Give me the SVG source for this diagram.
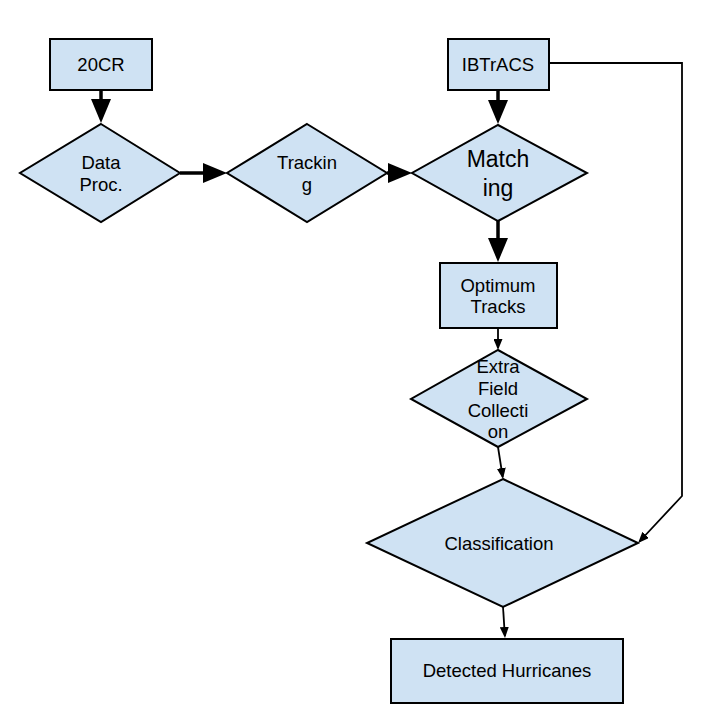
<svg xmlns="http://www.w3.org/2000/svg" width="726" height="722" viewBox="0 0 726 722">
<style>
.box{fill:#cfe2f3;stroke:#000;stroke-width:2}
.t{font-family:"Liberation Sans",Arial,sans-serif;font-size:18.5px;fill:#000;text-anchor:middle}
.big{font-size:23px}
.thick{stroke:#000;stroke-width:3.5;fill:none}
.thin{stroke:#000;stroke-width:1.8;fill:none}
</style>
<defs>
<marker id="ab" viewBox="0 0 24 20" refX="13" refY="10" markerWidth="24" markerHeight="20" markerUnits="userSpaceOnUse" orient="auto"><path d="M0,0 L24,10 L0,20 z" fill="#000"/></marker>
<marker id="as" viewBox="0 0 11 9" refX="9" refY="4.5" markerWidth="11" markerHeight="9" markerUnits="userSpaceOnUse" orient="auto"><path d="M0,0 L11,4.5 L0,9 z" fill="#000"/></marker>
</defs>
<rect width="726" height="722" fill="#fff"/>
<g id="connectors">
<line class="thick" x1="101" y1="90" x2="101" y2="112" marker-end="url(#ab)"/>
<line class="thick" x1="180" y1="173" x2="216" y2="173" marker-end="url(#ab)"/>
<line class="thick" x1="387" y1="173" x2="401" y2="173" marker-end="url(#ab)"/>
<line class="thick" x1="498" y1="90" x2="498" y2="113" marker-end="url(#ab)"/>
<line class="thick" x1="498" y1="221" x2="498" y2="251" marker-end="url(#ab)"/>
<line class="thin" x1="498" y1="328" x2="498" y2="348" marker-end="url(#as)"/>
<line class="thin" x1="498" y1="447" x2="502.7" y2="477" marker-end="url(#as)"/>
<line class="thin" x1="503" y1="607" x2="504.9" y2="636" marker-end="url(#as)"/>
<polyline class="thin" points="549,63 682,63 682,496 639.5,541.5" marker-end="url(#as)"/>
</g>
<g id="n20CR"><rect class="box" x="50" y="39" width="102" height="51"/><text class="t" x="101" y="71">20CR</text></g>
<g id="nIBTrACS"><rect class="box" x="448" y="39" width="101" height="51"/><text class="t" x="498" y="71">IBTrACS</text></g>
<g id="nDataProc"><polygon class="box" points="101,124 180,173 101,222 20,173"/><text class="t" x="101" y="169">Data</text><text class="t" x="101" y="191">Proc.</text></g>
<g id="nTracking"><polygon class="box" points="307,124 387,173 307,222 227,173"/><text class="t" x="307" y="169">Trackin</text><text class="t" x="307" y="191">g</text></g>
<g id="nMatching"><polygon class="box" points="498,125 587,173 498,221 412,173"/><text class="t big" x="498" y="167">Match</text><text class="t big" x="498" y="196">ing</text></g>
<g id="nOptimum"><rect class="box" x="440" y="263" width="117" height="65"/><text class="t" x="498" y="292">Optimum</text><text class="t" x="498" y="313">Tracks</text></g>
<g id="nExtra"><polygon class="box" points="498,350 587,399 498,447 411,399"/><text class="t" x="498" y="373">Extra</text><text class="t" x="498" y="395">Field</text><text class="t" x="498" y="417">Collecti</text><text class="t" x="498" y="438">on</text></g>
<g id="nClassification"><polygon class="box" points="503,479 638,543 503,607 367,543"/><text class="t" x="499" y="550">Classification</text></g>
<g id="nDetected"><rect class="box" x="391" y="639" width="232" height="64"/><text class="t" x="507" y="677">Detected Hurricanes</text></g>
</svg>
